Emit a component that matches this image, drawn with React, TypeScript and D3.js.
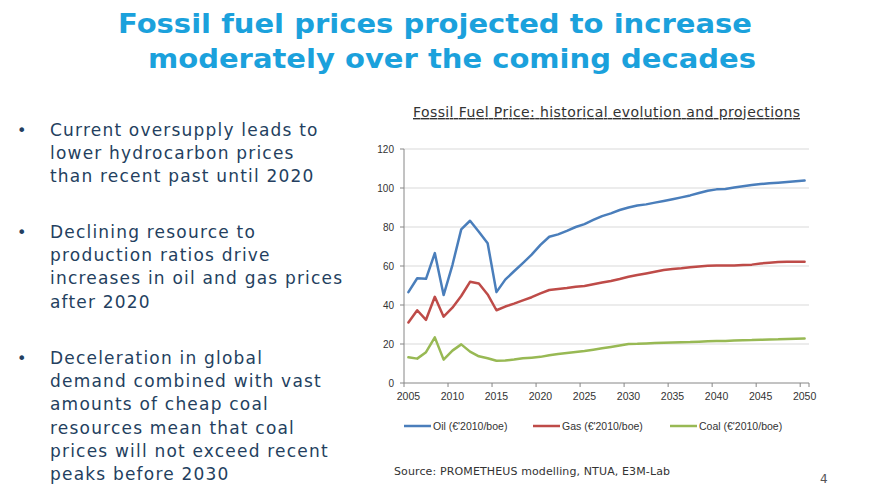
import React from "react";
import * as d3 from "d3";

const years: number[] = d3.range(2005, 2051);
const oil: number[] = [46.6, 53.7, 53.4, 66.6, 45.1, 60.5, 78.8, 83.2, 77.6, 71.7, 46.6, 53, 57.3, 61.5, 65.8, 70.8, 75, 76.2, 78, 80, 81.5, 83.6, 85.6, 87, 88.7, 90, 91, 91.6, 92.5, 93.3, 94.2, 95.2, 96.2, 97.4, 98.6, 99.3, 99.5, 100.2, 100.9, 101.5, 102, 102.4, 102.7, 103.1, 103.4, 103.8];
const gas: number[] = [31, 37.3, 32.4, 44.2, 34, 38.6, 44.6, 51.9, 51, 45.4, 37.3, 39.2, 40.7, 42.4, 44, 46, 47.7, 48.2, 48.7, 49.4, 49.7, 50.6, 51.5, 52.3, 53.3, 54.5, 55.4, 56.2, 57.1, 58, 58.5, 58.8, 59.3, 59.7, 60.1, 60.2, 60.2, 60.3, 60.5, 60.7, 61.3, 61.7, 62, 62.2, 62.2, 62.2];
const coal: number[] = [13.2, 12.5, 15.8, 23.4, 12, 16.6, 19.8, 16.1, 13.7, 12.7, 11.4, 11.5, 12, 12.7, 13, 13.4, 14.2, 14.9, 15.4, 15.9, 16.4, 17.1, 17.8, 18.5, 19.2, 20, 20.1, 20.3, 20.5, 20.7, 20.8, 20.9, 21.0, 21.2, 21.4, 21.5, 21.6, 21.8, 21.9, 22.0, 22.2, 22.3, 22.4, 22.6, 22.7, 22.8];
const yTicks: number[] = [0, 20, 40, 60, 80, 100, 120];
const xLabelYears: number[] = [2005, 2010, 2015, 2020, 2025, 2030, 2035, 2040, 2045, 2050];
const seriesNames: string[] = ["Oil (€'2010/boe)", "Gas (€'2010/boe)", "Coal (€'2010/boe)"];
const seriesColors: string[] = ["#4a7ebb", "#be4b48", "#98b954"];

const titleLines: string[] = [
  "Fossil fuel prices projected to increase",
  "moderately over the coming decades",
];
const bullets: string[][] = [
  ["Current oversupply leads to", "lower hydrocarbon prices", "than recent past until 2020"],
  ["Declining resource to", "production ratios drive", "increases in oil and gas prices", "after 2020"],
  ["Deceleration in global", "demand combined with vast", "amounts of cheap coal", "resources mean that coal", "prices will not exceed recent", "peaks before 2030"],
];

export default function App() {
  const W = 873, H = 498;
  const left = 404, right = 809, top = 149, bottom = 383;
  const x = d3.scaleBand<number>().domain(years).range([left, right]).paddingInner(0).paddingOuter(0);
  const cx = (yr: number) => (x(yr) as number) + x.bandwidth() / 2;
  const y = d3.scaleLinear().domain([0, 120]).range([bottom, top]);
  const line = d3.line<number>().x((_, i) => cx(years[i])).y((d) => y(d));
  const allSeries = [oil, gas, coal];

  const bulletStarts = [135.5, 238, 364];
  const lh = 23.2;
  const legendX = [404, 533, 670];

  return (
    <svg width={W} height={H} style={{ position: "absolute", left: 0, top: 0, background: "#fff" }}>
      {titleLines.map((t, i) => (
        <text key={t} x={i === 0 ? 435 : 452} y={i === 0 ? 33 : 68} textAnchor="middle"
          fontFamily="DejaVu Sans" fontWeight="bold" fontSize={26} fill="#1ba1dc"
          textLength={i === 0 ? 634 : 608} lengthAdjust="spacingAndGlyphs">{t}</text>
      ))}
      {bullets.map((b, bi) => (
        <g key={bi}>
          <text x={17} y={bulletStarts[bi]} fontFamily="DejaVu Sans" fontSize={16} fill="#243f60">•</text>
          {b.map((ln, li) => (
            <text key={li} x={50} y={bulletStarts[bi] + li * lh} fontFamily="DejaVu Sans" fontSize={17} fill="#243f60" letterSpacing={1.2}>{ln}</text>
          ))}
        </g>
      ))}
      <text x={413} y={117} fontFamily="DejaVu Sans" fontSize={14} fill="#333" textDecoration="underline"
        textLength={387} lengthAdjust="spacing">Fossil Fuel Price: historical evolution and projections</text>
      {yTicks.filter((t) => t > 0).map((t) => (
        <line key={t} x1={left} x2={right} y1={y(t)} y2={y(t)} stroke="#d9d9d9" strokeWidth={1} />
      ))}
      {yTicks.map((t) => (
        <g key={"yl" + t}>
          <line x1={left - 4} x2={left} y1={y(t)} y2={y(t)} stroke="#868686" />
          <text x={394} y={y(t) + 3.5} textAnchor="end" fontFamily="Liberation Sans" fontSize={10} fill="#333">{t}</text>
        </g>
      ))}
      <line x1={left} x2={left} y1={top} y2={bottom} stroke="#868686" />
      <line x1={left} x2={right} y1={bottom} y2={bottom} stroke="#868686" />
      {xLabelYears.map((yr) => (
        <g key={yr}>
          <line x1={x(yr) as number} x2={x(yr) as number} y1={bottom} y2={bottom + 4} stroke="#868686" />
          <text x={cx(yr)} y={bottom + 17} textAnchor="middle" fontFamily="Liberation Sans" fontSize={10.5} fill="#333">{yr}</text>
        </g>
      ))}
      <line x1={right} x2={right} y1={bottom} y2={bottom + 4} stroke="#868686" />
      {allSeries.map((s, i) => (
        <path key={i} d={line(s) as string} fill="none" stroke={seriesColors[i]} strokeWidth={2.5} strokeLinejoin="round" strokeLinecap="round" />
      ))}
      {seriesNames.map((n, i) => (
        <g key={n}>
          <line x1={legendX[i]} x2={legendX[i] + 27} y1={426} y2={426} stroke={seriesColors[i]} strokeWidth={2.5} />
          <text x={legendX[i] + 29} y={429.5} fontFamily="Liberation Sans" fontSize={10.5} fill="#333">{n}</text>
        </g>
      ))}
      <text x={394} y={475} fontFamily="DejaVu Sans" fontSize={11} fill="#333" textLength={276} lengthAdjust="spacing">Source: PROMETHEUS modelling, NTUA, E3M-Lab</text>
      <text x={820} y={483} fontFamily="DejaVu Sans" fontSize={12} fill="#555">4</text>
    </svg>
  );
}
